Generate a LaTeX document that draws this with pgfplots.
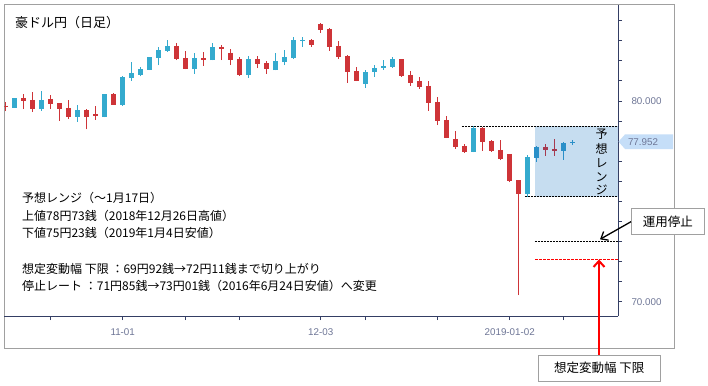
\documentclass[border=0pt]{standalone}
\usepackage{fontspec}
\usepackage{pgfplots}
\pgfplotsset{compat=1.18}
\usepackage{pgfplotstable}
\usetikzlibrary{arrows.meta}
\setmainfont{Noto Sans CJK JP}
\newfontfamily\lib{Liberation Sans}
\definecolor{upcol}{RGB}{52,170,206}
\definecolor{dncol}{RGB}{206,52,56}
\definecolor{upscol}{RGB}{42,143,200}
\definecolor{dnscol}{RGB}{165,58,80}
\definecolor{shadecol}{RGB}{198,221,240}
\definecolor{pricecol}{RGB}{197,222,248}
\definecolor{axiscol}{RGB}{52,62,100}
\definecolor{labelcol}{RGB}{110,118,150}
\definecolor{framecol}{RGB}{160,160,160}
\definecolor{pured}{RGB}{255,0,0}

\pgfplotstableread{
i o h l c
1 79.67 80.17 79.67 80.13
4 79.60 80.50 79.52 80.05
8 79.22 79.80 78.97 79.55
11 79.20 80.37 79.18 80.35
13 79.80 81.25 79.75 81.20
14 81.16 81.94 81.00 81.40
15 81.30 81.71 81.23 81.59
16 81.56 82.21 81.54 82.19
17 82.16 82.71 81.79 82.54
18 82.51 83.04 82.46 82.74
21 81.59 82.41 81.36 82.14
23 82.04 82.89 82.02 82.69
27 81.30 82.24 81.15 82.09
30 81.54 82.39 81.52 81.99
31 81.94 82.54 81.79 82.19
32 82.14 83.19 82.09 83.04
33 82.99 83.19 82.69 83.04
40 80.86 81.54 80.66 81.44
41 81.46 81.79 81.21 81.64
42 81.66 82.04 81.56 81.74
43 81.71 82.19 81.66 82.09
52 77.46 78.73 77.44 78.67
58 75.38 77.29 75.23 77.21
}\up

\pgfplotstableread{
i o h l c
59 77.18 77.76 76.98 77.71
62 77.53 77.96 77.08 77.91
63 77.92 78.05 77.82 77.95
}\ups

\pgfplotstableread{
i o h l c
0 79.77 79.95 79.49 79.68
2 80.15 80.35 79.60 80.02
3 80.05 80.47 79.47 79.60
5 80.10 80.30 79.60 79.87
6 79.90 79.92 79.02 79.60
7 79.65 80.05 79.10 79.20
9 79.55 79.60 78.59 79.20
10 79.35 79.75 79.07 79.27
12 80.33 80.40 79.80 79.82
19 82.74 82.89 82.04 82.09
20 82.14 82.49 81.57 81.59
22 82.14 82.44 81.76 82.04
24 82.69 82.79 82.04 82.59
25 82.39 82.59 81.79 82.04
26 82.09 82.19 81.25 81.30
28 82.09 82.24 81.64 81.84
29 81.89 81.99 81.35 81.59
34 83.04 83.09 82.69 82.79
35 83.84 83.87 83.39 83.54
36 83.59 83.64 82.49 82.71
37 82.74 82.99 82.09 82.21
38 82.24 82.29 80.90 81.46
39 81.49 81.69 80.99 81.01
44 82.09 82.11 81.21 81.26
45 81.30 81.49 80.76 80.91
46 81.00 81.20 80.61 80.71
47 80.75 81.00 79.52 79.92
48 79.95 80.20 78.80 79.02
49 79.05 79.25 78.15 78.17
50 78.11 78.51 77.62 77.72
51 77.76 77.86 77.43 77.48
53 78.67 78.70 77.53 77.97
54 77.99 78.05 77.46 77.51
55 77.56 78.05 77.06 77.11
56 77.36 77.38 75.96 76.01
57 76.06 76.08 70.33 75.36
}\dn

\pgfplotstableread{
i o h l c
60 77.71 77.86 77.28 77.58
61 77.61 78.11 77.28 77.53
}\dns

\pgfplotsset{
  wick/.style={quiver={u=0, v=\thisrow{h}-\thisrow{l},
      every arrow/.append style={line width=1pt, line cap=butt}}},
  body/.style={quiver={u=0, v=\thisrow{c}-\thisrow{o},
      every arrow/.append style={line width=5pt, line cap=butt}}},
}

\begin{document}
\begin{tikzpicture}
\path[use as bounding box] (0,0) rectangle (708pt,-385pt);
\fill[white] (0,0) rectangle (708pt,-385pt);
\draw[framecol, line width=1pt] (4.3pt,-4.3pt) rectangle (674pt,-348pt);

\begin{axis}[
  at={(4.5pt,-316pt)}, anchor=south west,
  scale only axis, width=613.5pt, height=311pt,
  xmin=-0.133, xmax=68.03, ymin=69.29, ymax=84.78,
  axis x line*=bottom, axis y line*=right,
  axis line style={axiscol, line width=0.9pt},
  xtick={5,13,20,26,35,40,48,56,62},
  xticklabels={,11-01,,,12-03,,,2019-01-02,},
  ytick={70,80}, yticklabels={70.000,80.000},
  minor ytick={71,72,73,74,75,76,77,78,79,81,82,83,84},
  tick align=outside, major tick length=4pt, minor tick length=4pt,
  tick style={axiscol, line width=0.9pt},
  ticklabel style={font=\lib\fontsize{9.8}{11}\selectfont, text=labelcol},
  yticklabel style={xshift=6pt},
  xticklabel style={yshift=-5pt},
]
\fill[shadecol] (axis cs:58.8,75.23) rectangle (axis cs:68.03,78.73);
\addplot[draw=upcol, wick] table[x=i, y=l] {\up};
\addplot[draw=upcol, body] table[x=i, y=o] {\up};
\addplot[draw=dncol, wick] table[x=i, y=l] {\dn};
\addplot[draw=dncol, body] table[x=i, y=o] {\dn};
\addplot[draw=upscol, wick] table[x=i, y=l] {\ups};
\addplot[draw=upscol, body] table[x=i, y=o] {\ups};
\addplot[draw=dnscol, wick] table[x=i, y=l] {\dns};
\addplot[draw=dnscol, body] table[x=i, y=o] {\dns};
\addplot[black, line width=0.9pt, dash pattern=on 2pt off 1pt] coordinates {(50.67,78.73) (68.03,78.73)};
\addplot[black, line width=0.9pt, dash pattern=on 2pt off 1pt] coordinates {(57.75,75.23) (68.03,75.23)};
\addplot[black, line width=0.9pt, dash pattern=on 2pt off 1pt] coordinates {(58.8,73.01) (68.03,73.01)};
\end{axis}

% current price label
\fill[pricecol] (618.5pt,-141.7pt) -- (625pt,-134.4pt) -- (673pt,-134.4pt) -- (673pt,-149pt) -- (625pt,-149pt) -- cycle;
\node[text=labelcol, font=\lib\fontsize{9.8}{11}\selectfont] at (643pt,-141.9pt) {77.952};

% title
\node[anchor=west, inner sep=0pt, font=\fontsize{13}{15}\selectfont] at (15pt,-23pt) {豪ドル円（日足）};

% vertical range text
\begin{scope}[every node/.style={font=\fontsize{12}{14}\selectfont, inner sep=0pt}]
\node at (601.5pt,-134pt) {予};
\node at (601.5pt,-149pt) {想};
\node at (601.5pt,-163pt) {レ};
\node at (601.5pt,-177pt) {ン};
\node at (601.5pt,-189.5pt) {ジ};
\end{scope}

% text block
\begin{scope}[every node/.style={anchor=west, inner sep=0pt, font=\fontsize{12}{14}\selectfont}]
\node at (22pt,-198pt) {予想レンジ（～1月17日）};
\node at (22pt,-215.5pt) {上値78円73銭（2018年12月26日高値）};
\node at (22pt,-233pt) {下値75円23銭（2019年1月4日安値）};
\node at (22pt,-268.5pt) {想定変動幅 下限 ：69円92銭→72円11銭まで切り上がり};
\node at (22pt,-286pt) {停止レート ：71円85銭→73円01銭（2016年6月24日安値）へ変更};
\end{scope}

% annotation boxes and arrows
\node[draw=framecol, fill=white, line width=1pt, minimum width=72.3pt, minimum height=25.3pt, inner sep=0pt, font=\fontsize{12.5}{14}\selectfont] (b1) at (667.9pt,-221.4pt) {運用停止};
\draw[black, line width=1.3pt, -{Straight Barb[length=6pt,width=10pt]}] (631pt,-221.7pt) -- (600pt,-239.3pt);

\begin{scope}[color=pured]
\draw[draw=pured, line width=1.1pt, dash pattern=on 3pt off 1pt] (535pt,-259.4pt) -- (618pt,-259.4pt);
\draw[pured, line width=2pt, -{Straight Barb[length=6pt,width=11pt]}] (599pt,-355pt) -- (599pt,-259.5pt);
\end{scope}
\node[draw=framecol, fill=white, line width=1pt, minimum width=121.4pt, minimum height=26pt, inner sep=0pt, font=\fontsize{12.5}{14}\selectfont] at (599.3pt,-368pt) {想定変動幅 下限};
\end{tikzpicture}
\end{document}
